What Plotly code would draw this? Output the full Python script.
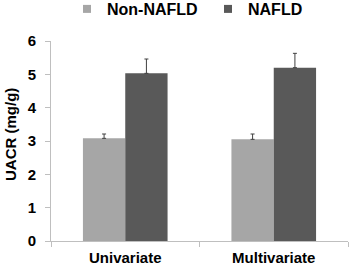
import plotly.graph_objects as go

categories = ["Univariate", "Multivariate"]
non_nafld = [3.08, 3.05]
non_nafld_err = [0.13, 0.16]
nafld = [5.03, 5.20]
nafld_err = [0.43, 0.43]
y_ticks = [0, 1, 2, 3, 4, 5, 6]

font_family = "Liberation Sans, Arial, sans-serif"
err_color = "#404040"
light = "#a6a6a6"
dark = "#595959"

fig = go.Figure()
fig.add_trace(go.Bar(
    name="Non-NAFLD", x=categories, y=non_nafld, showlegend=False,
    marker=dict(color=light, line=dict(width=0)),
    error_y=dict(type="data", array=non_nafld_err, symmetric=False,
                 arrayminus=[0, 0], color=err_color, thickness=1, width=2),
))
fig.add_trace(go.Bar(
    name="NAFLD", x=categories, y=nafld, showlegend=False,
    marker=dict(color=dark, line=dict(width=0)),
    error_y=dict(type="data", array=nafld_err, symmetric=False,
                 arrayminus=[0, 0], color=err_color, thickness=1, width=2),
))
# legend entries with small square swatches
for name, col in [("Non-NAFLD", light), ("NAFLD", dark)]:
    fig.add_trace(go.Scatter(
        x=[None], y=[None], mode="markers", name=name,
        marker=dict(symbol="square", size=8, color=col),
    ))

fig.update_layout(
    width=349, height=269,
    margin=dict(l=51, r=1, t=41, b=28),
    paper_bgcolor="white", plot_bgcolor="white",
    barmode="group", bargap=0.43, bargroupgap=0,
    font=dict(family=font_family, size=15, color="#000000", weight="bold"),
    legend=dict(orientation="h", x=0.121, xanchor="left",
                y=1 - 9 / 269, yanchor="middle", yref="container",
                font=dict(size=16, weight="bold"),
                itemwidth=30, traceorder="normal",
                entrywidth=96, entrywidthmode="pixels"),
    showlegend=True,
    annotations=[dict(
        text="UACR (mg/g)", textangle=-90, showarrow=False,
        xref="paper", yref="paper", x=-41 / 297, y=0.53,
        xanchor="center", yanchor="middle",
        font=dict(size=15, weight="bold", color="#000000"),
    )],
)
fig.update_xaxes(
    showline=True, linecolor="#bfbfbf", linewidth=1, automargin=False,
    ticks="outside", tickson="boundaries", ticklen=5, tickcolor="#bfbfbf",
    tickfont=dict(size=15, weight="bold"), showgrid=False, ticklabelstandoff=3,
)
fig.update_yaxes(
    range=[0, 6], tickvals=y_ticks, showline=True, linecolor="#bfbfbf", linewidth=1,
    ticks="outside", ticklen=5, tickcolor="#bfbfbf", showgrid=False, zeroline=False,
    automargin=False, ticklabelstandoff=6,
    tickfont=dict(size=15, weight="bold"),
)

fig.write_html("out.html", config={"displayModeBar": False},
               post_script="document.body.style.margin='0';")
